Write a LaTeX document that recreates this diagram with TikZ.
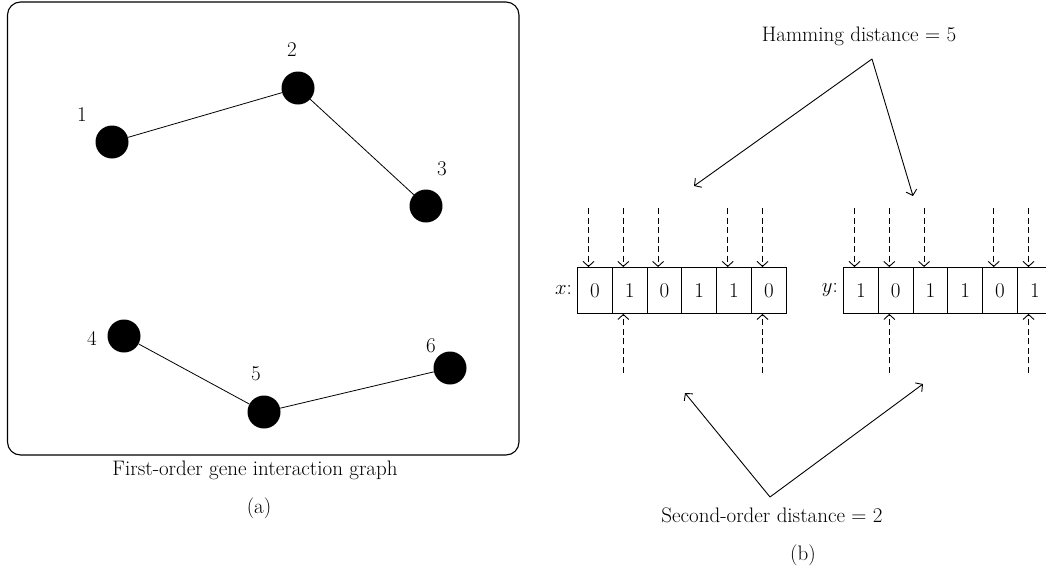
\documentclass[tikz,border=0pt]{standalone}
\usetikzlibrary{arrows.meta,calc}
\begin{document}
\begin{tikzpicture}[x=1pt,y=-1pt,
  every node/.style={font=\fontsize{21}{25}\selectfont},
  gene/.style={circle,fill=black,minimum size=33pt,inner sep=0pt},
  lbl/.style={inner sep=0pt},
  cell/.style={draw,line width=0.9pt,minimum width=34.8pt,minimum height=46pt,inner sep=0pt,anchor=north west},
  edge/.style={line width=0.8pt},
  arr/.style={line width=0.9pt,-{Straight Barb[length=5pt,width=11pt]}},
  darr/.style={line width=0.9pt,dash pattern=on 6pt off 3.5pt,-{Straight Barb[length=5pt,width=11pt]}}]
\useasboundingbox (0,0) rectangle (1046,571);
\clip (0,0) rectangle (1046,571);
% (a)
\draw[line width=1.1pt,rounded corners=13pt] (7.5,2) rectangle (519,455);
\node[gene] (g1) at (112,142) {};
\node[gene] (g2) at (298,88) {};
\node[gene] (g3) at (426,206) {};
\node[gene] (g4) at (124,336) {};
\node[gene] (g5) at (264,412) {};
\node[gene] (g6) at (450,368) {};
\node[lbl] (l1) at (82,115) {1};
\node[lbl] (l2) at (292,50) {2};
\node[lbl] (l3) at (442,169) {3};
\node[lbl] (l4) at (92,338) {4};
\node[lbl] (l5) at (256,374) {5};
\node[lbl] (l6) at (431,346) {6};
\draw[edge] (g1) -- (g2);
\draw[edge] (g2) -- (g3);
\draw[edge] (g4) -- (g5);
\draw[edge] (g5) -- (g6);
\node[lbl] (capa) at (255,470) {First-order gene interaction graph};
\node[lbl] (suba) at (259,508) {(a)};
% (b)
\foreach \v [count=\i] in {0,1,0,1,1,0}
  \node[cell] (x\i) at ({577+(\i-1)*34.8},267) {\v};
\foreach \v [count=\i] in {1,0,1,1,0,1}
  \node[cell] (y\i) at ({843+(\i-1)*34.8},267) {\v};
\node[lbl,anchor=east] (xl) at (572,290) {$x$:};
\node[lbl,anchor=east] (yl) at (838,290) {$y$:};
\foreach \i in {1,2,3,5,6} {
  \coordinate (xt\i) at ($(x\i.north west)+(11.5,-59)$);
  \draw[darr] (xt\i) -- (xt\i |- x\i.north);
  \coordinate (yt\i) at ($(y\i.north west)+(11.5,-59)$);
  \draw[darr] (yt\i) -- (yt\i |- y\i.north);
}
\foreach \i in {2,6} {
  \coordinate (xb\i) at ($(x\i.south west)+(11.5,59)$);
  \draw[darr] (xb\i) -- (xb\i |- x\i.south);
  \coordinate (yb\i) at ($(y\i.south west)+(11.5,59)$);
  \draw[darr] (yb\i) -- (yb\i |- y\i.south);
}
\node[lbl] (ham) at (859,36) {Hamming distance = 5};
\coordinate (hapex) at (872,59);
\coordinate (hl) at (694,186);
\coordinate (hr) at (913,196);
\draw[arr] (hapex) -- (hl);
\draw[arr] (hapex) -- (hr);
\node[lbl] (sec) at (772,515) {Second-order distance = 2};
\coordinate (sapex) at (770,497);
\coordinate (sl) at (685,393);
\coordinate (sr) at (923,384);
\draw[arr] (sapex) -- (sl);
\draw[arr] (sapex) -- (sr);
\node[lbl] (subb) at (803,555) {(b)};
\end{tikzpicture}
\end{document}
